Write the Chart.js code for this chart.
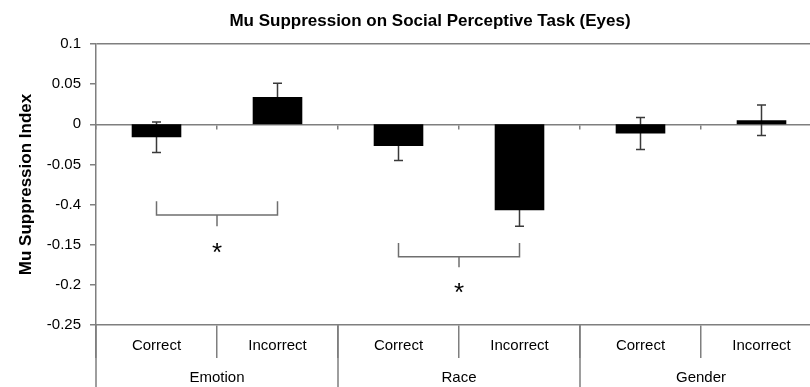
<!DOCTYPE html>
<html>
<head>
<meta charset="utf-8">
<script src="https://cdn.jsdelivr.net/npm/chart.js@4.4.1/dist/chart.umd.min.js"></script>
<style>
html,body{margin:0;padding:0;overflow:hidden;background:#fff;width:810px;height:387px;}
#wrap{position:relative;width:826px;height:387px;}
</style>
</head>
<body>
<div id="wrap"><canvas id="myChart" width="826" height="387"></canvas></div>
<script>
// values
var conditions = ['Correct', 'Incorrect', 'Correct', 'Incorrect', 'Correct', 'Incorrect'];
var tasks = ['Emotion', 'Race', 'Gender'];
var suppression = [-0.016, 0.034, -0.027, -0.107, -0.0115, 0.005];
var stdError = [0.019, 0.017, 0.018, 0.020, 0.020, 0.019];
// bottom to top, the "-0.4" is printed like that in the original
var yTickLabels = ['-0.25', '-0.2', '-0.15', '-0.4', '-0.05', '0', '0.05', '0.1'];

// significance brackets (bar index pairs, levels in data units)
var bracketFrom = [0, 2];
var bracketTo = [1, 3];
var bracketEnds = [-0.096, -0.148];
var bracketBar = [-0.113, -0.165];
var bracketStem = [-0.127, -0.178];
var starLevel = [-0.152, -0.2015];

var FONT = "'Liberation Sans', Arial, sans-serif";
var axisGray = '#7f7f7f';

var extras = {
    id: 'extras',
    beforeDatasetsDraw: function(chart) {
        var ctx = chart.ctx, x = chart.scales.x, y = chart.scales.y;
        ctx.save();
        ctx.strokeStyle = '#3a3a3a';
        ctx.lineWidth = 1.5;
        for (var i = 0; i < suppression.length; i++) {
            var px = x.getPixelForValue(i);
            var top = y.getPixelForValue(suppression[i] + stdError[i]);
            var bot = y.getPixelForValue(suppression[i] - stdError[i]);
            ctx.beginPath();
            ctx.moveTo(px, top); ctx.lineTo(px, bot);
            ctx.moveTo(px - 4.5, top); ctx.lineTo(px + 4.5, top);
            ctx.moveTo(px - 4.5, bot); ctx.lineTo(px + 4.5, bot);
            ctx.stroke();
        }
        ctx.restore();
    },
    afterDraw: function(chart) {
        var ctx = chart.ctx, x = chart.scales.x, y = chart.scales.y;
        var area = chart.chartArea;
        ctx.save();

        // brackets + stars
        ctx.strokeStyle = '#6f6f6f';
        ctx.lineWidth = 1.5;
        for (var b = 0; b < bracketFrom.length; b++) {
            var x1 = x.getPixelForValue(bracketFrom[b]);
            var x2 = x.getPixelForValue(bracketTo[b]);
            var mid = (x1 + x2) / 2;
            var yEnd = y.getPixelForValue(bracketEnds[b]);
            var yBar = y.getPixelForValue(bracketBar[b]);
            var yStem = y.getPixelForValue(bracketStem[b]);
            ctx.beginPath();
            ctx.moveTo(x1, yEnd); ctx.lineTo(x1, yBar); ctx.lineTo(x2, yBar); ctx.lineTo(x2, yEnd);
            ctx.moveTo(mid, yBar); ctx.lineTo(mid, yStem);
            ctx.stroke();

            ctx.fillStyle = '#000';
            ctx.font = '26px ' + FONT;
            ctx.textAlign = 'center';
            ctx.textBaseline = 'alphabetic';
            ctx.fillText('*', mid, y.getPixelForValue(starLevel[b]) + 0.57 * 26);
        }

        // long separators of the task groups below the plot
        ctx.strokeStyle = axisGray;
        ctx.lineWidth = 1.5;
        var edges = [area.left];
        for (var g = 1; g < tasks.length; g++) {
            edges.push((x.getPixelForValue(2 * g - 1) + x.getPixelForValue(2 * g)) / 2);
        }
        edges.push(area.right);
        ctx.beginPath();
        edges.forEach(function(e) {
            ctx.moveTo(e, area.bottom); ctx.lineTo(e, chart.height);
        });
        ctx.stroke();

        ctx.fillStyle = '#000';
        ctx.font = '15px ' + FONT;
        ctx.textAlign = 'center';
        ctx.textBaseline = 'middle';
        for (var t = 0; t < tasks.length; t++) {
            var cx = (x.getPixelForValue(2 * t) + x.getPixelForValue(2 * t + 1)) / 2;
            ctx.fillText(tasks[t], cx, area.bottom + 53);
        }

        // chart title
        ctx.font = 'bold 17px ' + FONT;
        ctx.fillText('Mu Suppression on Social Perceptive Task (Eyes)', 430, 21);
        ctx.restore();
    }
};

var ctx = document.getElementById('myChart');

var myBarChart = new Chart(ctx, {
    type: 'bar',
    data: {
        labels: conditions,
        datasets: [{
            data: suppression,
            backgroundColor: '#000',
            borderWidth: 0,
            barPercentage: 0.41,
            categoryPercentage: 1
        }]
    },
    options: {
        responsive: false,
        animation: false,
        devicePixelRatio: 1,
        layout: { padding: { top: 44, right: 4, left: 0, bottom: 0 } },
        plugins: {
            legend: { display: false },
            title: { display: false },
            tooltip: { enabled: false }
        },
        scales: {
            x: {
                offset: true,
                grid: { display: true, offset: true, drawOnChartArea: false, tickLength: 33, color: axisGray, lineWidth: 1.5 },
                border: { display: true, color: axisGray, width: 1.5 },
                ticks: { color: '#000', font: { family: FONT, size: 15 }, padding: -21, maxRotation: 0, autoSkip: false },
                afterFit: function(s) { s.height = 62; }
            },
            xZero: {
                type: 'category',
                axis: 'x',
                position: { y: 0 },
                offset: true,
                grid: { offset: true, drawOnChartArea: false, tickLength: 4, color: axisGray, lineWidth: 1.5 },
                border: { color: axisGray, width: 1.5 },
                ticks: { display: false }
            },
            y: {
                min: -0.25,
                max: 0.1,
                ticks: {
                    stepSize: 0.05,
                    padding: 9,
                    color: '#000',
                    font: { family: FONT, size: 15 },
                    callback: function(v, i) { return yTickLabels[i]; }
                },
                grid: {
                    drawOnChartArea: true,
                    color: function(c) {
                        return c.tick && Math.abs(c.tick.value - 0.1) < 1e-9 ? axisGray : 'rgba(0,0,0,0)';
                    },
                    tickColor: axisGray,
                    tickLength: 6,
                    lineWidth: 1.5
                },
                border: { color: axisGray, width: 1.5 },
                title: {
                    display: true,
                    text: 'Mu Suppression Index',
                    color: '#000',
                    font: { family: FONT, size: 17, weight: 'bold' },
                    padding: { top: 16, bottom: 0 }
                },
                afterFit: function(s) { s.width = 96; }
            }
        }
    },
    plugins: [extras]
});
</script>
</body>
</html>
